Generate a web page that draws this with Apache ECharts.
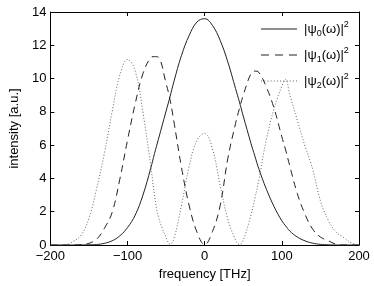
<!DOCTYPE html>
<html><head><meta charset="utf-8">
<script src="https://cdn.jsdelivr.net/npm/echarts@6/dist/echarts.min.js"></script>
<style>html,body{margin:0;padding:0;background:#fff}#c{width:374px;height:286px}</style>
</head><body><div id="c"></div>
<script>
const freq = [-200,-190,-180,-170,-160,-150,-140,-130,-120,-110,-100,-90,-80,-70,-65,-60,-50,-45,-40,-30,-20,-10,0,10,20,30,40,45,50,60,65,70,80,90,100,105,110,120,130,140,150,160,170,180,190,200];
const psi0 = [0,0,0,0,0.005,0.01,0.03,0.1,0.25,0.55,1.05,1.8,3.0,4.6,5.5,6.35,8.05,8.9,9.8,11.4,12.6,13.4,13.6,13.2,12.3,11.0,9.4,8.6,7.75,6.1,5.35,4.6,3.35,2.3,1.45,1.15,0.85,0.48,0.25,0.11,0.04,0.01,0,0,0,0];
const psi1 = [0,0,0,0,0.02,0.1,0.35,1.0,1.95,3.95,6.3,8.5,10.3,11.25,11.32,11.28,9.7,8.75,7.45,4.65,2.35,0.78,0.02,0.8,2.35,5.2,7.3,8.2,9.0,10.3,10.45,10.38,9.48,8.2,6.5,5.7,4.8,3.1,1.85,0.95,0.48,0.26,0.05,0,0,0];
const psi2 = [0,0,0.02,0.22,0.6,1.6,3.4,5.5,8.0,10.2,11.15,10.45,7.95,4.8,3.0,1.7,0.45,0.05,0.35,2.4,4.75,6.3,6.7,5.8,3.6,1.55,0.3,0.02,0.3,1.8,2.8,3.85,6.35,8.2,9.55,9.95,9.1,7.5,5.95,4.55,2.65,1.5,0.8,0.45,0.12,0];
const xTicks = [-200,-100,0,100,200];
const yTicks = [0,2,4,6,8,10,12,14];
const names = ['psi0','psi1','psi2'];
const labels = {psi0:'0', psi1:'1', psi2:'2'};

const pair = a => freq.map((f,i)=>[f,a[i]]);
const font = 'Liberation Sans, Arial, Helvetica, sans-serif';
const minus = v => String(v).replace('-', '\u2212');
// legend icons: solid bar, dashes, dots (36 x 1)
function dashPath(dash, gap) {
  let p = '';
  for (let x = 0; x < 36; x += dash + gap) {
    const w = Math.min(dash, 36 - x);
    p += 'M' + x + ',0h' + w + 'v1h' + (-w) + 'z';
  }
  return 'path://' + p;
}
const icons = {psi0: dashPath(36, 0), psi1: dashPath(8, 6), psi2: dashPath(1, 2)};
const colors = {psi0:'#222', psi1:'#222', psi2:'#666'};
const axisCommon = {
  axisLine:{show:true,onZero:false,lineStyle:{color:'#000',width:1}},
  axisTick:{show:true,inside:true,length:4,lineStyle:{color:'#000'}},
  splitLine:{show:false}
};
const chart = echarts.init(document.getElementById('c'), null, {renderer:'canvas'});
chart.setOption({
  animation:false,
  grid:{left:43,right:15,top:12,bottom:35},
  legend:{
    data:names.map(n=>({name:n, icon:icons[n], itemStyle:{color:colors[n]}})),
    left:256, top:15, orient:'vertical', symbolKeepAspect:false,
    itemWidth:36, itemHeight:1, itemGap:8,
    formatter: n => '|\u03c8{sub|' + labels[n] + '}(\u03c9)|{sup|2}',
    textStyle:{fontFamily:font,fontSize:13,color:'#000',lineHeight:18,padding:[0,0,0,2],
      rich:{sub:{fontSize:9,verticalAlign:'bottom',lineHeight:18,fontFamily:font,color:'#000'},
            sup:{fontSize:9,verticalAlign:'top',lineHeight:18,fontFamily:font,color:'#000'}}}
  },
  xAxis:[
    Object.assign({type:'value',min:xTicks[0],max:xTicks[xTicks.length-1],interval:100,position:'bottom',
      name:'frequency [THz]',nameLocation:'middle',nameGap:23,
      nameTextStyle:{fontFamily:font,fontSize:13,color:'#000'},
      axisLabel:{fontFamily:font,fontSize:13,color:'#000',margin:5,formatter:minus}},axisCommon),
    Object.assign({type:'value',min:xTicks[0],max:xTicks[xTicks.length-1],interval:100,position:'top',
      axisLabel:{show:false}},axisCommon)
  ],
  yAxis:[
    Object.assign({type:'value',min:yTicks[0],max:yTicks[yTicks.length-1],interval:2,position:'left',
      name:'intensity [a.u.]',nameLocation:'middle',nameGap:24,
      nameTextStyle:{fontFamily:font,fontSize:13,color:'#000'},
      axisLabel:{fontFamily:font,fontSize:13,color:'#000',margin:4}},axisCommon),
    Object.assign({type:'value',min:yTicks[0],max:yTicks[yTicks.length-1],interval:2,position:'right',
      axisLabel:{show:false}},axisCommon)
  ],
  series:[
    {name:'psi0',type:'line',data:pair(psi0),smooth:0.4,symbol:'none',lineStyle:{color:colors.psi0,width:1,type:'solid'},itemStyle:{color:colors.psi0}},
    {name:'psi1',type:'line',data:pair(psi1),smooth:0.4,symbol:'none',lineStyle:{color:colors.psi1,width:1,type:[7,5]},itemStyle:{color:colors.psi1}},
    {name:'psi2',type:'line',data:pair(psi2),smooth:0.4,symbol:'none',lineStyle:{color:colors.psi2,width:1,type:[1,2]},itemStyle:{color:colors.psi2}}
  ]
});
</script></body></html>
